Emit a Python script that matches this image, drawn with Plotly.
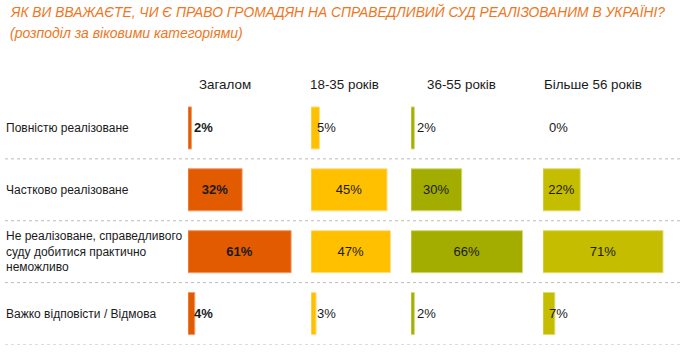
import plotly.graph_objects as go

categories = ["Повністю реалізоване", "Частково реалізоване",
              "Не реалізоване, справедливого<br>суду добитися практично<br>неможливо",
              "Важко відповісти / Відмова"]
groups = ["Загалом", "18-35 років", "36-55 років", "Більше 56 років"]
total = [2, 32, 61, 4]
age_18_35 = [5, 45, 47, 3]
age_36_55 = [2, 30, 66, 2]
age_56_plus = [0, 22, 71, 7]
series = [total, age_18_35, age_36_55, age_56_plus]

colors = ["#E35B00", "#FFC000", "#A3AD00", "#C4BD00"]
edge = ["#F29A6A", "#FFE08A", "#D2DA7A", "#E0DC70"]
W, H = 690, 356
panel_px = [188, 311, 411, 543]
header_px = [225, 344, 461, 593]
px_per_pct = 1.69
FONT = "Liberation Sans, Arial"

fig = go.Figure()
annotations = []
for i, vals in enumerate(series):
    ax = "x" if i == 0 else f"x{i+1}"
    bold = i == 0
    txt = [(f"<b>{v}%</b>" if bold else f"{v}%") if v >= 15 else "" for v in vals]
    fig.add_trace(go.Bar(
        x=vals, y=categories, orientation="h", xaxis=ax, yaxis="y",
        marker=dict(color=colors[i],
                    line=dict(color=edge[i], width=[1 if v > 0 else 0 for v in vals])),
        width=0.68, text=txt, textposition="inside", insidetextanchor="middle",
        textfont=dict(size=13, color="#1a1a1a", family=FONT),
        constraintext="none", showlegend=False, hoverinfo="skip"))
    for c, v in zip(categories, vals):
        if v < 15:
            annotations.append(dict(
                x=9, y=c, xref=ax, yref="y", showarrow=False, xanchor="center",
                text=(f"<b>{v}%</b>" if bold else f"{v}%"),
                font=dict(size=13, color="#1a1a1a", family=FONT)))
    annotations.append(dict(
        x=header_px[i] / W, y=1 - 85 / H, xref="paper", yref="paper",
        showarrow=False, xanchor="center", yanchor="middle", text=groups[i],
        font=dict(size=13.4, color="#1a1a1a", family=FONT)))

for j, c in enumerate(categories):
    annotations.append(dict(
        x=4 / W, y=c, xref="paper", yref="y", showarrow=False, xanchor="left",
        align="left", text=c,
        font=dict(size=12, color="#1a1a1a", family=FONT)))

annotations.append(dict(
    x=8 / W, y=1 - 12 / H, xref="paper", yref="paper", showarrow=False,
    xanchor="left", yanchor="middle",
    text="<i>ЯК ВИ ВВАЖАЄТЕ, ЧИ Є ПРАВО ГРОМАДЯН НА СПРАВЕДЛИВИЙ СУД РЕАЛІЗОВАНИМ В УКРАЇНІ?</i>",
    font=dict(size=13.8, color="#EE7623", family=FONT)))
annotations.append(dict(
    x=8 / W, y=1 - 33 / H, xref="paper", yref="paper", showarrow=False,
    xanchor="left", yanchor="middle",
    text="<i>(розподіл за віковими категоріями)</i>",
    font=dict(size=14, color="#EE7623", family=FONT)))

shapes = []
for k in range(len(categories)):
    shapes.append(dict(type="line", xref="paper", yref="y",
                       x0=5 / W, x1=680 / W, y0=k + 0.5, y1=k + 0.5,
                       line=dict(color="#BBBBBB", width=1, dash="dot")))

layout = dict(
    width=W, height=H, margin=dict(l=0, r=0, t=0, b=0),
    paper_bgcolor="white", plot_bgcolor="rgba(0,0,0,0)",
    barmode="overlay", annotations=annotations, shapes=shapes,
    yaxis=dict(domain=[1 - 344.5 / H, 1 - 97 / H], autorange=False,
               range=[3.5, -0.5], showticklabels=False, showgrid=False,
               zeroline=False, fixedrange=True),
)
for i in range(4):
    key = "xaxis" if i == 0 else f"xaxis{i+1}"
    x0 = panel_px[i] / W
    layout[key] = dict(domain=[x0, 1], range=[0, (W - panel_px[i]) / px_per_pct],
                       visible=False, fixedrange=True)
    if i > 0:
        layout[key]["anchor"] = "y"
fig.update_layout(**layout)
fig.write_html("out.html", config={"displayModeBar": False},
               post_script="document.body.style.margin='0';document.body.style.overflow='hidden';")
